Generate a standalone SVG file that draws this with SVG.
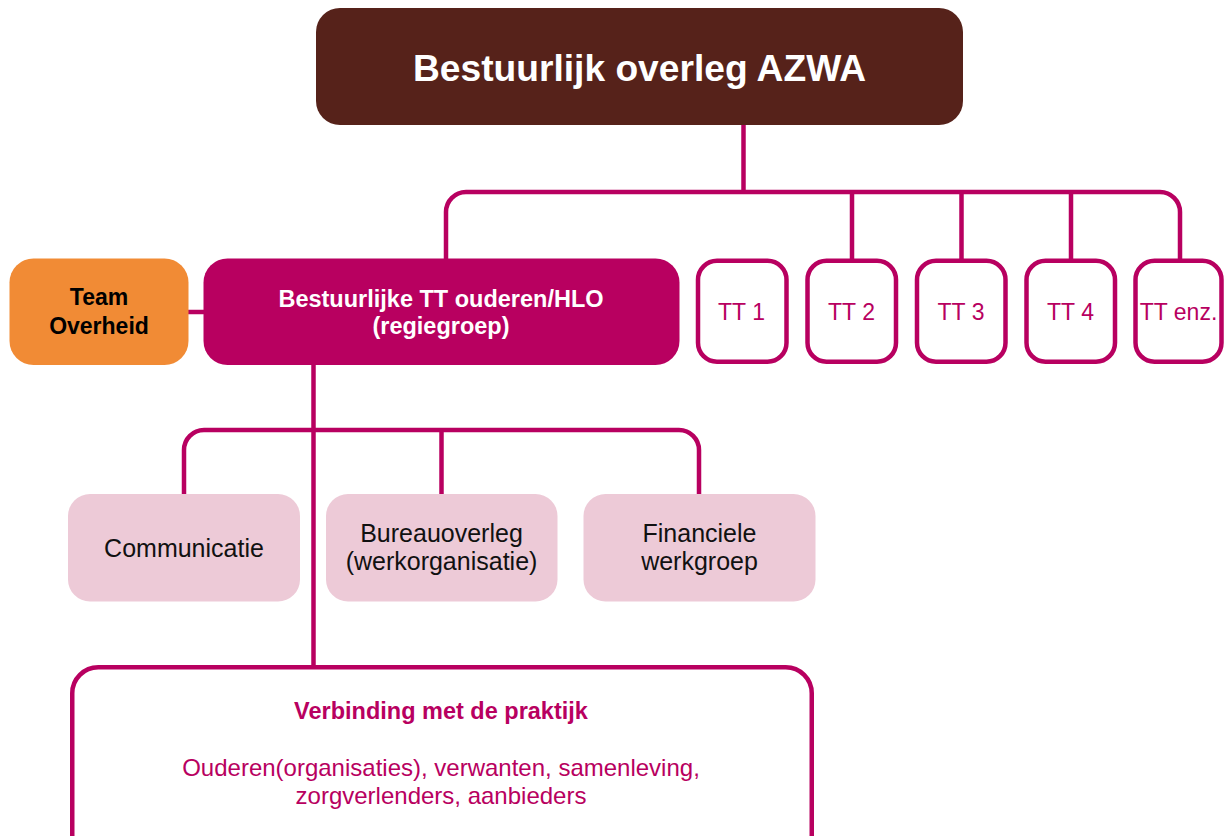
<svg xmlns="http://www.w3.org/2000/svg" width="1225" height="836" viewBox="0 0 1225 836">
<style>
.ln{fill:none;stroke:#B80060;stroke-width:4.5;stroke-linejoin:round}
.tt{fill:#FFFFFF;stroke:#B80060;stroke-width:4.5}
.pk{fill:#EDCAD7}
.t{font-family:"Liberation Sans",Arial,sans-serif;text-anchor:middle}
.b{font-weight:bold}
.tl{font-size:23px;fill:#B80060}
.pt{font-size:25px;fill:#111111}
</style>
<rect width="1225" height="836" fill="#FFFFFF"/>
<g id="connectors">
<path class="ln" d="M743.5,125 V192"/>
<path class="ln" d="M446,259 V212 A20,20 0 0 1 466,192 H1160 A20,20 0 0 1 1180,212 V260"/>
<path class="ln" d="M852,192 V260 M961.5,192 V260 M1071,192 V260"/>
<path class="ln" d="M187,312 H205"/>
<path class="ln" d="M313.5,364 V667"/>
<path class="ln" d="M184,495 V450 A20,20 0 0 1 204,430 H679 A20,20 0 0 1 699,450 V495"/>
<path class="ln" d="M441.5,430 V495"/>
</g>
<g id="node-azwa">
<rect x="316" y="8" width="647" height="117" rx="24" fill="#56221A"/>
<text class="t b" x="639.5" y="81" font-size="36.5" fill="#FFFFFF" textLength="453" lengthAdjust="spacingAndGlyphs">Bestuurlijk overleg AZWA</text>
</g>
<g id="node-team-overheid">
<rect x="9.5" y="258.5" width="179" height="106.5" rx="24" fill="#F18B35"/>
<text class="t b" x="99" y="305" font-size="23" fill="#000000">Team</text>
<text class="t b" x="99" y="334" font-size="23" fill="#000000">Overheid</text>
</g>
<g id="node-regiegroep">
<rect x="203.5" y="258.5" width="476" height="106.5" rx="24" fill="#B80060"/>
<text class="t b" x="441" y="307" font-size="23.5" fill="#FFFFFF">Bestuurlijke TT ouderen/HLO</text>
<text class="t b" x="441" y="334" font-size="23.5" fill="#FFFFFF">(regiegroep)</text>
</g>
<g id="node-tt1">
<rect class="tt" x="698" y="260.75" width="88.5" height="101" rx="19"/>
<text class="t tl" x="741.5" y="319.5">TT 1</text>
</g>
<g id="node-tt2">
<rect class="tt" x="807.5" y="260.75" width="88.5" height="101" rx="19"/>
<text class="t tl" x="851.5" y="319.5">TT 2</text>
</g>
<g id="node-tt3">
<rect class="tt" x="917" y="260.75" width="88.5" height="101" rx="19"/>
<text class="t tl" x="961" y="319.5">TT 3</text>
</g>
<g id="node-tt4">
<rect class="tt" x="1026.5" y="260.75" width="88.5" height="101" rx="19"/>
<text class="t tl" x="1070.5" y="319.5">TT 4</text>
</g>
<g id="node-tt-enz">
<rect class="tt" x="1135.5" y="260.75" width="86" height="101" rx="19"/>
<text class="t tl" x="1178.5" y="319.5">TT enz.</text>
</g>
<g id="node-communicatie">
<rect class="pk" x="68" y="494" width="232" height="107.5" rx="22"/>
<text class="t pt" x="184" y="557">Communicatie</text>
</g>
<g id="node-bureauoverleg">
<rect class="pk" x="326" y="494" width="231.5" height="107.5" rx="22"/>
<text class="t pt" x="441.5" y="542">Bureauoverleg</text>
<text class="t pt" x="441.5" y="570">(werkorganisatie)</text>
</g>
<g id="node-financiele">
<rect class="pk" x="583.5" y="494" width="232" height="107.5" rx="22"/>
<text class="t pt" x="699.5" y="542">Financiele</text>
<text class="t pt" x="699.5" y="570">werkgroep</text>
</g>
<g id="node-verbinding">
<rect x="72.25" y="667.25" width="739.5" height="200" rx="26" fill="#FFFFFF" stroke="#B80060" stroke-width="4.5"/>
<text class="t b" x="441" y="718.5" font-size="23.5" fill="#B80060">Verbinding met de praktijk</text>
<text class="t" x="441" y="776" font-size="24" fill="#B80060">Ouderen(organisaties), verwanten, samenleving,</text>
<text class="t" x="441" y="804" font-size="24" fill="#B80060">zorgverlenders, aanbieders</text>
</g>
</svg>
